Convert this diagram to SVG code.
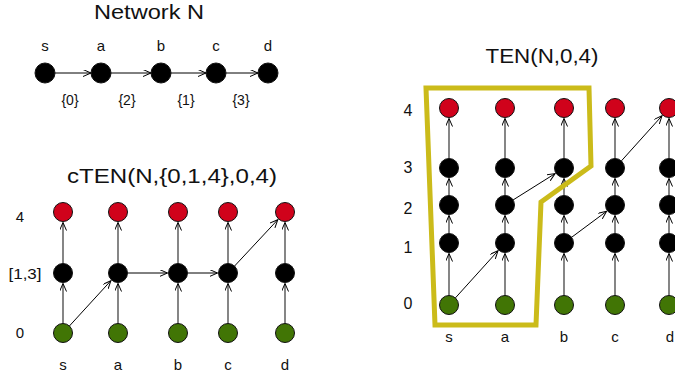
<svg xmlns="http://www.w3.org/2000/svg" width="675" height="380" viewBox="0 0 675 380">
<defs>
<marker id="ah" markerWidth="10" markerHeight="8" refX="8" refY="3.5" orient="auto" markerUnits="userSpaceOnUse">
<path d="M0,0 L8,3.5 L0,7" fill="none" stroke="#000" stroke-width="1"/>
</marker>
</defs>
<style>
text{font-family:"Liberation Sans",Arial,sans-serif;fill:#111}
.title{font-size:21px;text-anchor:middle}
.lbl{font-size:15px;text-anchor:middle}
.rl{font-size:15px;text-anchor:middle}
.trl{font-size:16px;text-anchor:middle}
.elbl{font-size:14px;text-anchor:middle}
.n{stroke:#111;stroke-width:1}
.blk{fill:#000}
.red{fill:#d0021b}
.grn{fill:#417505}
.e{stroke:#000;stroke-width:1;fill:none;marker-end:url(#ah)}
.v{stroke:#444;stroke-width:1.3;fill:none;marker-end:url(#ah)}
.hl{fill:none;stroke:#cbbb1a;stroke-width:5;stroke-linejoin:miter}
</style>

<rect width="675" height="380" fill="#fff"/>

<!-- Network N -->
<text class="title" x="149" y="19" textLength="110" lengthAdjust="spacingAndGlyphs">Network N</text>
<g id="network-labels">
<text class="lbl" x="45" y="51">s</text>
<text class="lbl" x="101" y="51">a</text>
<text class="lbl" x="161" y="51">b</text>
<text class="lbl" x="216" y="51">c</text>
<text class="lbl" x="268" y="51">d</text>
<text class="elbl" x="70" y="105">{0}</text>
<text class="elbl" x="127" y="105">{2}</text>
<text class="elbl" x="186" y="105">{1}</text>
<text class="elbl" x="241" y="105">{3}</text>
</g>
<g id="network-edges">
<line class="e" x1="55" y1="73" x2="91" y2="73"/>
<line class="e" x1="111" y1="73" x2="151" y2="73"/>
<line class="e" x1="171" y1="73" x2="206" y2="73"/>
<line class="e" x1="226" y1="73" x2="258" y2="73"/>
</g>
<g id="N-s"><circle class="n blk" cx="45" cy="73" r="10"/></g>
<g id="N-a"><circle class="n blk" cx="101" cy="73" r="10"/></g>
<g id="N-b"><circle class="n blk" cx="161" cy="73" r="10"/></g>
<g id="N-c"><circle class="n blk" cx="216" cy="73" r="10"/></g>
<g id="N-d"><circle class="n blk" cx="268" cy="73" r="10"/></g>

<!-- cTEN -->
<text class="title" x="172" y="183" textLength="210" lengthAdjust="spacingAndGlyphs">cTEN(N,{0,1,4},0,4)</text>
<g id="cten-labels">
<text class="rl" x="20" y="222">4</text>
<text class="rl" x="25" y="279" textLength="33" lengthAdjust="spacingAndGlyphs">[1,3]</text>
<text class="rl" x="20" y="338">0</text>
<text class="lbl" x="63" y="370">s</text>
<text class="lbl" x="118" y="370">a</text>
<text class="lbl" x="178" y="370">b</text>
<text class="lbl" x="228" y="370">c</text>
<text class="lbl" x="285" y="370">d</text>
</g>
<g id="cten-edges">
<line class="v" x1="63" y1="323.5" x2="63" y2="283.5"/>
<line class="v" x1="63" y1="263.5" x2="63" y2="222.5"/>
<line class="v" x1="118" y1="323.5" x2="118" y2="283.5"/>
<line class="v" x1="118" y1="263.5" x2="118" y2="222.5"/>
<line class="v" x1="178" y1="323.5" x2="178" y2="283.5"/>
<line class="v" x1="178" y1="263.5" x2="178" y2="222.5"/>
<line class="v" x1="228" y1="323.5" x2="228" y2="283.5"/>
<line class="v" x1="228" y1="263.5" x2="228" y2="222.5"/>
<line class="v" x1="285" y1="323.5" x2="285" y2="283.5"/>
<line class="v" x1="285" y1="263.5" x2="285" y2="222.5"/>
<line class="e" x1="69.4" y1="326" x2="110.9" y2="280.7"/>
<line class="e" x1="127.5" y1="273" x2="167.5" y2="273"/>
<line class="e" x1="187.5" y1="273" x2="217.5" y2="273"/>
<line class="e" x1="234.5" y1="266.1" x2="277.8" y2="219.7"/>
</g>
<g id="cten-s"><circle class="n red" cx="63" cy="212" r="9.5"/><circle class="n blk" cx="63" cy="273" r="9.5"/><circle class="n grn" cx="63" cy="333" r="9.5"/></g>
<g id="cten-a"><circle class="n red" cx="118" cy="212" r="9.5"/><circle class="n blk" cx="118" cy="273" r="9.5"/><circle class="n grn" cx="118" cy="333" r="9.5"/></g>
<g id="cten-b"><circle class="n red" cx="178" cy="212" r="9.5"/><circle class="n blk" cx="178" cy="273" r="9.5"/><circle class="n grn" cx="178" cy="333" r="9.5"/></g>
<g id="cten-c"><circle class="n red" cx="228" cy="212" r="9.5"/><circle class="n blk" cx="228" cy="273" r="9.5"/><circle class="n grn" cx="228" cy="333" r="9.5"/></g>
<g id="cten-d"><circle class="n red" cx="285" cy="212" r="9.5"/><circle class="n blk" cx="285" cy="273" r="9.5"/><circle class="n grn" cx="285" cy="333" r="9.5"/></g>

<!-- TEN -->
<text class="title" x="542" y="63" textLength="113" lengthAdjust="spacingAndGlyphs">TEN(N,0,4)</text>
<g id="ten-labels">
<text class="trl" x="408" y="116">4</text>
<text class="trl" x="408" y="173">3</text>
<text class="trl" x="408" y="214">2</text>
<text class="trl" x="408" y="253">1</text>
<text class="trl" x="408" y="309">0</text>
<text class="lbl" x="449" y="342">s</text>
<text class="lbl" x="505" y="342">a</text>
<text class="lbl" x="564" y="342">b</text>
<text class="lbl" x="615" y="342">c</text>
<text class="lbl" x="670" y="342">d</text>
</g>
<g id="ten-edges">
<line class="v" x1="449" y1="295.5" x2="449" y2="253.5"/>
<line class="v" x1="449" y1="233.5" x2="449" y2="215.5"/>
<line class="v" x1="449" y1="195.5" x2="449" y2="178.5"/>
<line class="v" x1="449" y1="158.5" x2="449" y2="118.5"/>
<line class="v" x1="505" y1="295.5" x2="505" y2="253.5"/>
<line class="v" x1="505" y1="233.5" x2="505" y2="215.5"/>
<line class="v" x1="505" y1="195.5" x2="505" y2="178.5"/>
<line class="v" x1="505" y1="158.5" x2="505" y2="118.5"/>
<line class="v" x1="564" y1="295.5" x2="564" y2="253.5"/>
<line class="v" x1="564" y1="233.5" x2="564" y2="215.5"/>
<line class="v" x1="564" y1="195.5" x2="564" y2="178.5"/>
<line class="v" x1="564" y1="158.5" x2="564" y2="118.5"/>
<line class="v" x1="615" y1="295.5" x2="615" y2="253.5"/>
<line class="v" x1="615" y1="233.5" x2="615" y2="215.5"/>
<line class="v" x1="615" y1="195.5" x2="615" y2="178.5"/>
<line class="v" x1="615" y1="158.5" x2="615" y2="118.5"/>
<line class="v" x1="669" y1="295.5" x2="669" y2="253.5"/>
<line class="v" x1="669" y1="233.5" x2="669" y2="215.5"/>
<line class="v" x1="669" y1="195.5" x2="669" y2="178.5"/>
<line class="v" x1="669" y1="158.5" x2="669" y2="118.5"/>
<line class="e" x1="455.4" y1="297.9" x2="498" y2="250.8"/>
<line class="e" x1="513" y1="200" x2="555.1" y2="173.6"/>
<line class="e" x1="571.6" y1="237.3" x2="606.6" y2="211.3"/>
<line class="e" x1="621.4" y1="160.9" x2="662" y2="115.8"/>
</g>
<g id="ten-s"><circle class="n red" cx="449" cy="108" r="9.5"/><circle class="n blk" cx="449" cy="168" r="9.5"/><circle class="n blk" cx="449" cy="205" r="9.5"/><circle class="n blk" cx="449" cy="243" r="9.5"/><circle class="n grn" cx="449" cy="305" r="9.5"/></g>
<g id="ten-a"><circle class="n red" cx="505" cy="108" r="9.5"/><circle class="n blk" cx="505" cy="168" r="9.5"/><circle class="n blk" cx="505" cy="205" r="9.5"/><circle class="n blk" cx="505" cy="243" r="9.5"/><circle class="n grn" cx="505" cy="305" r="9.5"/></g>
<g id="ten-b"><circle class="n red" cx="564" cy="108" r="9.5"/><circle class="n blk" cx="564" cy="168" r="9.5"/><circle class="n blk" cx="564" cy="205" r="9.5"/><circle class="n blk" cx="564" cy="243" r="9.5"/><circle class="n grn" cx="564" cy="305" r="9.5"/></g>
<g id="ten-c"><circle class="n red" cx="615" cy="108" r="9.5"/><circle class="n blk" cx="615" cy="168" r="9.5"/><circle class="n blk" cx="615" cy="205" r="9.5"/><circle class="n blk" cx="615" cy="243" r="9.5"/><circle class="n grn" cx="615" cy="305" r="9.5"/></g>
<g id="ten-d"><circle class="n red" cx="669" cy="108" r="9.5"/><circle class="n blk" cx="669" cy="168" r="9.5"/><circle class="n blk" cx="669" cy="205" r="9.5"/><circle class="n blk" cx="669" cy="243" r="9.5"/><circle class="n grn" cx="669" cy="305" r="9.5"/></g>
<g id="highlight">
<polygon class="hl" points="426,88 589,88 591,166 541,202 536,325 435,325"/>
</g>
</svg>
